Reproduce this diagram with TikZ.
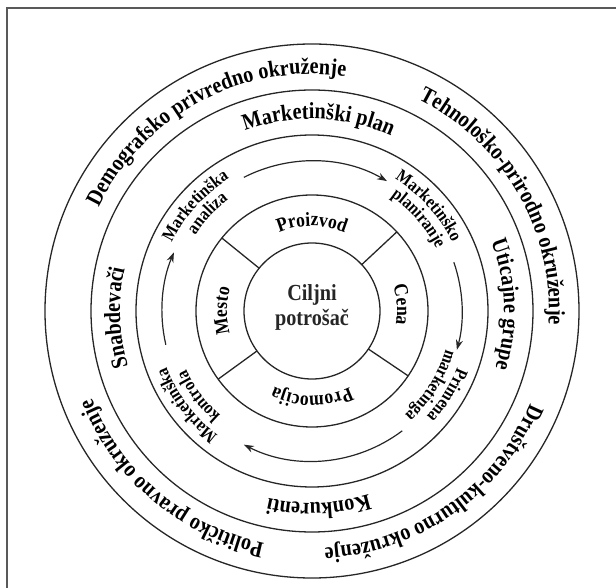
\documentclass[tikz,border=0pt]{standalone}
\usepackage{fontspec}
\setmainfont{Liberation Serif}[FakeStretch=0.88]
\usetikzlibrary{decorations.text,arrows.meta}
\newcommand{\ringtext}[4]{\path[decorate,decoration={text along path,text align=center,
    text={|\fontsize{#3}{#3}\selectfont\bfseries|#4}}]
    ({#2+70}:#1) arc[start angle=#2+70,end angle=#2-70,radius=#1];}
\begin{document}
\begin{tikzpicture}[x=1pt,y=1pt,
        ring/.style={line width=1.3pt,black!85},
        flow/.style={line width=1.2pt,black!85,-{Stealth[length=10pt,width=7pt]}},
        frame/.style={line width=1.6pt,black!65}]
        \useasboundingbox (-312,-277) rectangle (304,311);
        \coordinate(O)at(0,0);
        \draw[frame](-305,-277)--(-305,303)--(304,303);
        \foreach \r in {68,116,176,221,267}
            \draw[ring](O)circle[radius=\r];
        \foreach \a in {141,43,216,326}
            \draw[ring](\a:68)--(\a:116);
        \node[align=center,font=\bfseries\fontsize{23}{25}\selectfont,text=black!85](cp)at(0,4){Ciljni\\potrošač};
        \ringtext{85}{90}{20}{Proizvod}
        \ringtext{85}{4}{20}{Cena}
        \ringtext{85}{-90}{20}{Promocija}
        \ringtext{85}{180}{20}{Mesto}
        \draw[flow](117:150)arc[start angle=117,end angle=60,radius=150];
        \draw[flow](19:150)arc[start angle=19,end angle=-15,radius=150];
        \draw[flow](-53:150)arc[start angle=-53,end angle=-117,radius=150];
        \draw[flow](193:150)arc[start angle=193,end angle=157,radius=150];
        \ringtext{156}{138}{18}{Marketinška}
        \ringtext{139}{137}{18}{analiza}
        \ringtext{156}{42}{18}{Marketinško}
        \ringtext{139}{41}{18}{planiranje}
        \ringtext{156}{-32}{18}{Primena}
        \ringtext{139}{-32}{18}{marketinga}
        \ringtext{156}{-143}{18}{Marketinška}
        \ringtext{139}{-143}{18}{kontrola}
        \ringtext{192}{88}{23}{Marketinški plan}
        \ringtext{192}{2}{23}{Uticajne grupe}
        \ringtext{192}{-88}{23}{Konkurenti}
        \ringtext{192}{182}{23}{Snabdevači}
        \ringtext{237}{118}{23}{Demografsko privredno okruženje}
        \ringtext{237}{30}{23}{Tehnološko-prirodno okruženje}
        \ringtext{237}{-55}{23}{Društveno-kulturno okruženje}
        \ringtext{237}{-130}{23}{Političko pravno okruženje}
    \end{tikzpicture}
\end{document}
